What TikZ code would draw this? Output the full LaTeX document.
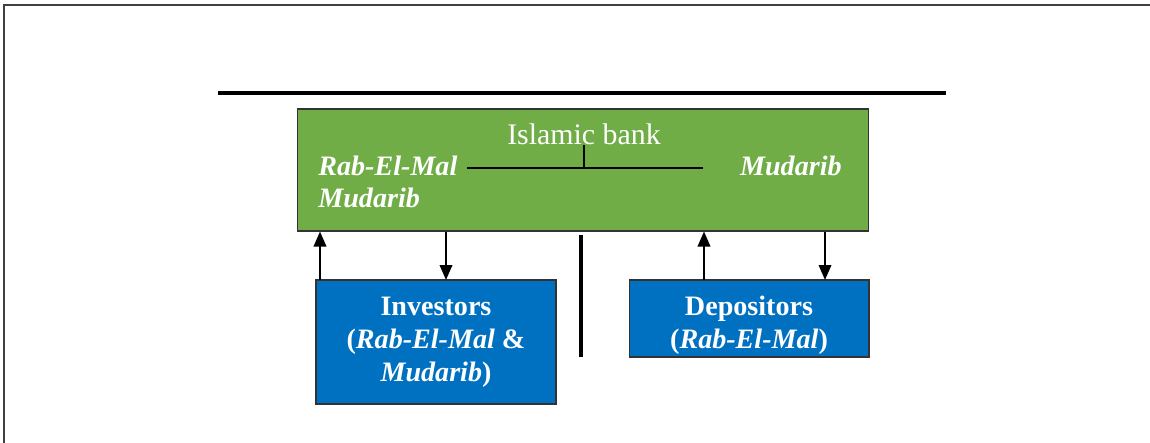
\documentclass[tikz,border=0pt]{standalone}
\usepackage{fontspec}
\setmainfont{Liberation Serif}
\usetikzlibrary{arrows.meta}

\definecolor{bankgreen}{RGB}{112,173,71}
\definecolor{partyblue}{RGB}{0,112,192}

\begin{document}
\begin{tikzpicture}[x=0.02cm, y=-0.02cm,
        bank/.style={draw=black!80, fill=bankgreen, line width=0.6pt,
            minimum width=11.44cm, minimum height=2.44cm, inner sep=0pt},
        party/.style={draw=black!80, fill=partyblue, text=white, line width=0.6pt,
            font=\fontsize{16}{18.7}\selectfont\bfseries, align=center, inner sep=0pt},
        partytext/.style={text=white, font=\fontsize{16}{18.7}\selectfont\bfseries,
            align=center, inner sep=0pt},
        role/.style={text=white, font=\fontsize{16}{19}\selectfont\bfseries\itshape, inner sep=0pt},
        flow/.style={-{Triangle[length=0.3cm, width=0.25cm]}, line width=1.1pt}]
        \useasboundingbox (0,0) rectangle (1150,443);
        \draw[black!75, line width=0.6pt] (1150,5) -- (4,5) -- (4,443);

        \coordinate (barL) at (218,93);
        \coordinate (barR) at (946,93);
        \draw[line width=2.8pt] (barL) -- (barR);

        \node[bank] (bank) at (583,170) {};
        \node[text=white, font=\fontsize{17}{20}\selectfont, inner sep=0pt] (title) at (584,134) {Islamic bank};
        \node[role, anchor=west] (rab) at (318,166) {Rab-El-Mal};
        \node[role, anchor=west] (mud1) at (318,198) {Mudarib};
        \node[role, anchor=east] (mud2) at (842,166) {Mudarib};

        \coordinate (linkL) at (467,168);
        \coordinate (linkR) at (703,168);
        \coordinate (joint) at (584,168);
        \coordinate (tick) at (584,145);
        \draw[line width=1pt] (linkL) -- (linkR);
        \draw[line width=1pt] (joint) -- (tick);

        \node[party, minimum width=4.8cm, minimum height=2.48cm] (inv) at (436,342)
            {Investors\\(\textit{Rab-El-Mal} \&\\\textit{Mudarib})};
        \node[party, minimum width=4.8cm, minimum height=1.54cm] (dep) at (749,318.5) {};
        \node[partytext] (depText) at (749,325) {Depositors\\(\textit{Rab-El-Mal})};

        \coordinate (sepT) at (581,235);
        \coordinate (sepB) at (581,357);
        \draw[line width=2.3pt] (sepT) -- (sepB);

        \coordinate (invOut) at (320,280);
        \coordinate (invIn) at (446,280);
        \coordinate (depOut) at (704,280);
        \coordinate (depIn) at (825,280);
        \draw[flow] (invOut) -- (invOut |- bank.south);
        \draw[flow] (invIn |- bank.south) -- (invIn);
        \draw[flow] (depOut) -- (depOut |- bank.south);
        \draw[flow] (depIn |- bank.south) -- (depIn);
    \end{tikzpicture}
\end{document}
